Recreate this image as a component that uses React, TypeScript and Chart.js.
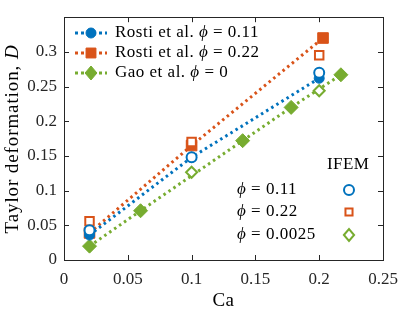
import React, { useEffect, useRef } from "react";
import { Chart, registerables } from "chart.js";

Chart.register(...registerables);

// ---------- data ----------
const xTicks = [0, 0.05, 0.1, 0.15, 0.2, 0.25];
const yTicks = [0, 0.05, 0.1, 0.15, 0.2, 0.25, 0.3];

const rosti011Ca = [0.02, 0.1, 0.2];
const rosti011D = [0.036, 0.148, 0.262];
const rosti022Ca = [0.02, 0.1, 0.203];
const rosti022D = [0.039, 0.165, 0.32];
const gaoCa = [0.02, 0.06, 0.14, 0.178, 0.217];
const gaoD = [0.02, 0.071, 0.172, 0.22, 0.267];

const ifem011Ca = [0.02, 0.1, 0.2];
const ifem011D = [0.043, 0.148, 0.27];
const ifem022Ca = [0.02, 0.1, 0.2];
const ifem022D = [0.056, 0.17, 0.295];
const ifem0025Ca = [0.1, 0.2];
const ifem0025D = [0.1265, 0.244];

const legendLabels = ["Rosti et al. ", "Rosti et al. ", "Gao et al. "];
const legendPhi = ["0.11", "0.22", "0"];
const ifemPhi = ["0.11", "0.22", "0.0025"];

// ---------- style ----------
const BLUE = "#0072BD";
const ORANGE = "#D95319";
const GREEN = "#77AC30";
const AXIS = "#262626";
const FONT = '"Liberation Serif", "DejaVu Serif", serif';
const FS = 17;

const pts = (xs: number[], ys: number[]) => xs.map((x, i) => ({ x, y: ys[i] }));
const fmt = (v: number) => String(parseFloat(Number(v).toFixed(4)));

function marker(ctx: CanvasRenderingContext2D, style: string, x: number, y: number, r: number, color: string, filled: boolean) {
  ctx.save();
  ctx.beginPath();
  if (style === "circle") {
    ctx.arc(x, y, r, 0, Math.PI * 2);
  } else if (style === "rect") {
    const s = r * Math.SQRT1_2;
    ctx.rect(x - s, y - s, 2 * s, 2 * s);
  } else {
    ctx.moveTo(x - r * 0.85, y);
    ctx.lineTo(x, y - r);
    ctx.lineTo(x + r * 0.85, y);
    ctx.lineTo(x, y + r);
    ctx.closePath();
  }
  if (filled) {
    ctx.fillStyle = color;
    ctx.fill();
    ctx.strokeStyle = color;
    ctx.lineWidth = 1;
    ctx.stroke();
  } else {
    ctx.fillStyle = "#ffffff";
    ctx.fill();
    ctx.strokeStyle = color;
    ctx.lineWidth = 2;
    ctx.stroke();
  }
  ctx.restore();
}

function mixedText(
  ctx: CanvasRenderingContext2D,
  parts: { t: string; it?: boolean }[],
  x: number,
  y: number,
  align: "left" | "center" = "left",
  size: number = FS,
  spacing: number = 0
) {
  ctx.save();
  ctx.textBaseline = "middle";
  ctx.textAlign = "left";
  ctx.fillStyle = "#000";
  (ctx as any).letterSpacing = `${spacing}px`;
  let total = 0;
  for (const p of parts) {
    ctx.font = `${p.it ? "italic " : ""}${size}px ${FONT}`;
    total += ctx.measureText(p.t).width;
  }
  let cx = align === "center" ? x - total / 2 : x;
  for (const p of parts) {
    ctx.font = `${p.it ? "italic " : ""}${size}px ${FONT}`;
    ctx.fillText(p.t, cx, y);
    cx += ctx.measureText(p.t).width;
  }
  ctx.restore();
}

const overlay = {
  id: "overlay",
  afterDraw(chart: any) {
    const ctx: CanvasRenderingContext2D = chart.ctx;
    const { left, right, top, bottom } = chart.chartArea;
    const xs = chart.scales.x;
    const ys = chart.scales.y;
    ctx.save();
    ctx.strokeStyle = AXIS;
    ctx.lineWidth = 1;
    ctx.strokeRect(Math.round(left) + 0.5, Math.round(top) + 0.5, Math.round(right - left), Math.round(bottom - top));
    const tl = 5;
    ctx.beginPath();
    for (const v of xTicks) {
      const px = Math.round(xs.getPixelForValue(v)) + 0.5;
      ctx.moveTo(px, bottom);
      ctx.lineTo(px, bottom - tl);
      ctx.moveTo(px, top);
      ctx.lineTo(px, top + tl);
    }
    for (const v of yTicks) {
      const py = Math.round(ys.getPixelForValue(v)) + 0.5;
      ctx.moveTo(left, py);
      ctx.lineTo(left + tl, py);
      ctx.moveTo(right, py);
      ctx.lineTo(right - tl, py);
    }
    ctx.stroke();
    ctx.restore();

    // legend
    const colors = [BLUE, ORANGE, GREEN];
    const styles = ["circle", "rect", "diamond"];
    const radii = [5, 7, 7];
    const ly = [33, 53, 73];
    for (let i = 0; i < 3; i++) {
      ctx.save();
      ctx.strokeStyle = colors[i];
      ctx.lineWidth = 3;
      ctx.setLineDash([3, 3]);
      ctx.beginPath();
      ctx.moveTo(75, ly[i]);
      ctx.lineTo(107, ly[i]);
      ctx.stroke();
      ctx.restore();
      marker(ctx, styles[i], 91, ly[i], radii[i], colors[i], true);
      mixedText(ctx, [{ t: legendLabels[i] }, { t: "ϕ", it: true }, { t: " = " + legendPhi[i] }], 115, ly[i], "left", FS, 0.5);
    }

    // IFEM block
    mixedText(ctx, [{ t: "IFEM" }], 327, 165, "left", FS, 0.4);
    const iy = [190, 212, 235];
    const ir = [5, 5, 6];
    for (let i = 0; i < 3; i++) {
      mixedText(ctx, [{ t: "ϕ", it: true }, { t: " = " + ifemPhi[i] }], 237, iy[i], "left", FS, 0.5);
      marker(ctx, styles[i], 349, iy[i], ir[i], colors[i], false);
    }

    // axis titles
    mixedText(ctx, [{ t: "Ca" }], (left + right) / 2, 301, "center", 19, 0.5);
    ctx.save();
    ctx.translate(13, 139);
    ctx.rotate(-Math.PI / 2);
    mixedText(ctx, [{ t: "Taylor deformation, " }, { t: "D", it: true }], 0, 0, "center", 19, 0.9);
    ctx.restore();
  },
};

export default function App() {
  const ref = useRef<HTMLCanvasElement | null>(null);
  useEffect(() => {
    if (!ref.current) return;
    const lineDs = (label: string, data: any[], color: string, style: string, r: number) => ({
      label,
      data,
      showLine: true,
      borderColor: color,
      borderWidth: 3,
      borderDash: [2.5, 3.5],
      pointStyle: style,
      pointRadius: r,
      pointBackgroundColor: color,
      pointBorderColor: color,
      pointBorderWidth: 1,
      fill: false,
    });
    const openDs = (label: string, data: any[], color: string, style: string, r: number) => ({
      label,
      data,
      showLine: false,
      pointStyle: style,
      pointRadius: r,
      pointBackgroundColor: "#ffffff",
      pointBorderColor: color,
      pointBorderWidth: 2,
    });
    const chart = new Chart(ref.current, {
      type: "scatter",
      data: {
        datasets: [
          openDs("IFEM 0.11", pts(ifem011Ca, ifem011D), BLUE, "circle", 5),
          openDs("IFEM 0.22", pts(ifem022Ca, ifem022D), ORANGE, "rect", 6),
          openDs("IFEM 0.0025", pts(ifem0025Ca, ifem0025D), GREEN, "rectRot", 5.5),
          lineDs("Rosti 0.11", pts(rosti011Ca, rosti011D), BLUE, "circle", 5),
          lineDs("Rosti 0.22", pts(rosti022Ca, rosti022D), ORANGE, "rect", 7.5),
          lineDs("Gao 0", pts(gaoCa, gaoD), GREEN, "rectRot", 7),
        ] as any,
      },
      options: {
        responsive: false,
        animation: false,
        layout: { padding: { left: 0, right: 32, top: 15, bottom: 0 } },
        plugins: { legend: { display: false }, tooltip: { enabled: false } },
        scales: {
          x: {
            type: "linear",
            min: 0,
            max: 0.25,
            afterFit: (s: any) => {
              s.height = 57;
            },
            afterBuildTicks: (s: any) => {
              s.ticks = xTicks.map((v) => ({ value: v }));
            },
            grid: { display: false, drawTicks: false },
            border: { display: false },
            ticks: { font: { family: FONT, size: FS }, color: AXIS, padding: 9, maxRotation: 0, callback: (v: any) => fmt(v) },
          },
          y: {
            type: "linear",
            min: 0,
            max: 0.35,
            afterFit: (s: any) => {
              s.width = 64;
            },
            afterBuildTicks: (s: any) => {
              s.ticks = yTicks.map((v) => ({ value: v }));
            },
            grid: { display: false, drawTicks: false },
            border: { display: false },
            ticks: { font: { family: FONT, size: FS }, color: AXIS, padding: 7, callback: (v: any) => fmt(v) },
          },
        },
      } as any,
      plugins: [overlay],
    });
    return () => chart.destroy();
  }, []);
  return (
    <div style={{ position: "fixed", left: 0, top: 0, width: 415, height: 317, background: "#fff" }}>
      <canvas ref={ref} width={415} height={317} style={{ display: "block" }} />
    </div>
  );
}
